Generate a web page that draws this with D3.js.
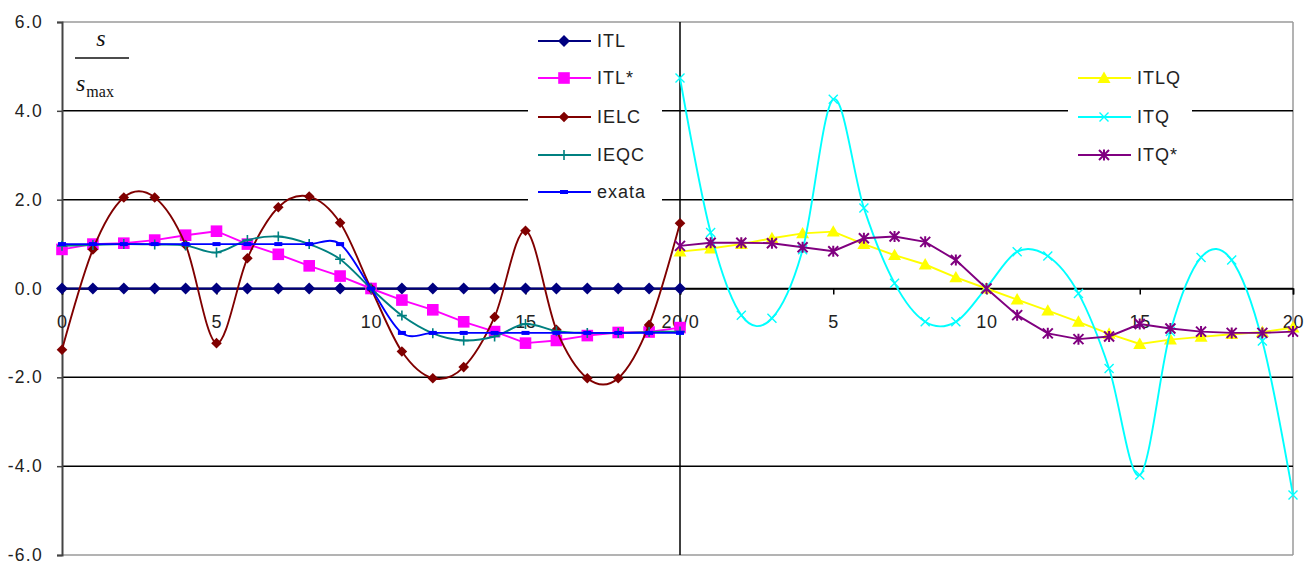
<!DOCTYPE html>
<html>
<head>
<meta charset="utf-8">
<script src="https://cdn.jsdelivr.net/npm/d3@7/dist/d3.min.js"></script>
<style>
  html, body { margin: 0; padding: 0; background: #fff; }
  svg { display: block; }
</style>
</head>
<body>
<svg id="chart" width="1305" height="570"></svg>
<script>
// Grid positions (x) shared by every series in both panels
const positions = [0, 1, 2, 3, 4, 5, 6, 7, 8, 9, 10, 11, 12, 13, 14, 15, 16, 17, 18, 19, 20];

// Left panel series
const itl   = [0, 0, 0, 0, 0, 0, 0, 0, 0, 0, 0, 0, 0, 0, 0, 0, 0, 0, 0, 0, 0];
const itlStar = [0.88, 1.0, 1.02, 1.09, 1.2, 1.29, 1.0, 0.77, 0.51, 0.28, 0, -0.26, -0.48, -0.75, -0.97, -1.23, -1.17, -1.06, -0.99, -0.98, -0.88];
const ielc  = [-1.38, 0.88, 2.05, 2.05, 0.98, -1.23, 0.68, 1.83, 2.07, 1.48, 0, -1.42, -2.02, -1.77, -0.64, 1.3, -0.93, -2.02, -2.02, -0.82, 1.47];
const ieqc  = [0.96, 0.98, 1.0, 0.99, 0.97, 0.81, 1.09, 1.17, 1.0, 0.66, 0, -0.61, -1.01, -1.17, -1.08, -0.8, -0.96, -1.0, -1.0, -0.98, -0.97];
const exata = [1, 1, 1, 1, 1, 1, 1, 1, 1, 1, 0, -1, -1, -1, -1, -1, -1, -1, -1, -1, -1];

// Right panel series
const itlq    = [0.83, 0.9, 1.0, 1.13, 1.24, 1.28, 1.0, 0.75, 0.54, 0.25, 0, -0.25, -0.5, -0.75, -1.02, -1.25, -1.15, -1.09, -1.03, -0.98, -0.88];
const itq     = [4.74, 1.26, -0.6, -0.67, 0.87, 4.26, 1.81, 0.12, -0.75, -0.75, 0.02, 0.83, 0.73, -0.11, -1.8, -4.2, -0.97, 0.7, 0.64, -1.18, -4.65];
const itqStar = [0.96, 1.03, 1.03, 1.02, 0.93, 0.84, 1.13, 1.17, 1.05, 0.64, 0, -0.6, -1.01, -1.14, -1.08, -0.8, -0.9, -0.97, -1.0, -1.0, -0.97];

// Axis labels
const yTicks = [-6, -4, -2, 0, 2, 4, 6];
const yLabels = ["-6.0", "-4.0", "-2.0", "0.0", "2.0", "4.0", "6.0"];
const xTicksLeft = [0, 5, 10, 15, 20];
const xLabelsLeft = ["0", "5", "10", "15", "20/0"];
const xTicksRight = [5, 10, 15, 20];
const xLabelsRight = ["5", "10", "15", "20"];

const leftSeries = [
  { name: "ITL",   values: itl,     color: "#000080", marker: "diamond", size: 6,   smooth: false },
  { name: "ITL*",  values: itlStar, color: "#FF00FF", marker: "square",  size: 5.8, smooth: false },
  { name: "IELC",  values: ielc,    color: "#800000", marker: "diamond", size: 5.3, smooth: true },
  { name: "IEQC",  values: ieqc,    color: "#008080", marker: "plus",    size: 5,   smooth: true },
  { name: "exata", values: exata,   color: "#0000FF", marker: "dash",    size: 4,   smooth: true }
];
const rightSeries = [
  { name: "ITLQ", values: itlq,    color: "#FFFF00", marker: "triangle", size: 6.5, smooth: false },
  { name: "ITQ",  values: itq,     color: "#00FFFF", marker: "cross",    size: 4.5, smooth: true },
  { name: "ITQ*", values: itqStar, color: "#800080", marker: "star",     size: 5,   smooth: false }
];

const SANS = "'Liberation Sans', Arial, sans-serif";
const SERIF = "'Liberation Serif', 'Times New Roman', serif";

const svg = d3.select("#chart");

const y = d3.scaleLinear().domain([-6, 6]).range([555, 22]);
const xL = d3.scaleLinear().domain([0, 20]).range([62, 680]);
const xR = d3.scaleLinear().domain([0, 20]).range([680, 1293]);

// Plot frame
svg.append("line").attr("x1", 62).attr("x2", 1293).attr("y1", y(6)).attr("y2", y(6))
  .attr("stroke", "#9a9a9a").attr("stroke-width", 1.5);
svg.append("line").attr("x1", 62).attr("x2", 1293).attr("y1", y(-6)).attr("y2", y(-6))
  .attr("stroke", "#9a9a9a").attr("stroke-width", 1.5);
svg.append("line").attr("x1", 1293).attr("x2", 1293).attr("y1", y(6)).attr("y2", y(-6))
  .attr("stroke", "#9a9a9a").attr("stroke-width", 1.5);

// Horizontal gridlines
svg.append("g").selectAll("line")
  .data(yTicks.filter(d => d !== 6 && d !== -6))
  .join("line")
  .attr("x1", 62).attr("x2", 1293)
  .attr("y1", d => y(d)).attr("y2", d => y(d))
  .attr("stroke", "#000").attr("stroke-width", 1.5);

// Y axis
const yAxis = d3.axisLeft(y).tickValues(yTicks)
  .tickFormat((d, i) => yLabels[i]).tickSize(5).tickPadding(14);
const gy = svg.append("g").attr("transform", "translate(62,0)").call(yAxis);
gy.select(".domain").attr("stroke", "#444").attr("stroke-width", 2);
gy.selectAll(".tick line").attr("stroke", "#444").attr("stroke-width", 1.5);
gy.selectAll(".tick text")
  .style("font-family", SANS).style("font-size", "17.5px").style("letter-spacing", "1.3px")
  .attr("fill", "#222");

// Panel divider
svg.append("line").attr("x1", 680).attr("x2", 680).attr("y1", y(6)).attr("y2", y(-6))
  .attr("stroke", "#000").attr("stroke-width", 1.5);

// X axes along zero line
function xAxisFor(scale, ticks, labels) {
  const ax = d3.axisBottom(scale).tickValues(ticks)
    .tickFormat((d, i) => labels[i]).tickSize(6).tickPadding(21);
  const g = svg.append("g").attr("transform", `translate(0,${y(0)})`).call(ax);
  g.select(".domain").attr("stroke", "#000").attr("stroke-width", 1.5);
  g.selectAll(".tick line").attr("stroke", "#000").attr("stroke-width", 1.5);
  g.selectAll(".tick text")
    .style("font-family", SANS).style("font-size", "18px").style("letter-spacing", "0.8px")
    .attr("fill", "#222");
  return g;
}
xAxisFor(xL, xTicksLeft, xLabelsLeft);
xAxisFor(xR, xTicksRight, xLabelsRight);

// Marker drawing
function drawMarker(g, type, color, s) {
  switch (type) {
    case "diamond":
      g.append("path").attr("d", `M0,${-s}L${s},0L0,${s}L${-s},0Z`).attr("fill", color);
      break;
    case "square":
      g.append("rect").attr("x", -s).attr("y", -s).attr("width", 2 * s).attr("height", 2 * s).attr("fill", color);
      break;
    case "triangle":
      g.append("path").attr("d", `M0,${-s}L${s},${s * 0.75}L${-s},${s * 0.75}Z`).attr("fill", color);
      break;
    case "dash":
      g.append("rect").attr("x", -s).attr("y", -2).attr("width", 2 * s).attr("height", 4).attr("fill", color);
      break;
    case "plus":
      g.append("path").attr("d", `M${-s},0H${s}M0,${-s}V${s}`).attr("stroke", color).attr("stroke-width", 1.6).attr("fill", "none");
      break;
    case "cross":
      g.append("path").attr("d", `M${-s},${-s}L${s},${s}M${-s},${s}L${s},${-s}`).attr("stroke", color).attr("stroke-width", 1.4).attr("fill", "none");
      break;
    case "star":
      g.append("path").attr("d", `M${-s},${-s}L${s},${s}M${-s},${s}L${s},${-s}M0,${-s - 0.5}V${s + 0.5}`).attr("stroke", color).attr("stroke-width", 2).attr("fill", "none");
      break;
  }
}

function drawSeries(list, xs) {
  list.forEach(s => {
    const pts = positions.map((p, i) => [xs(p), y(s.values[i])]);
    const line = d3.line().curve(s.smooth ? d3.curveCatmullRom.alpha(0) : d3.curveLinear);
    svg.append("path").attr("d", line(pts)).attr("fill", "none")
      .attr("stroke", s.color).attr("stroke-width", 1.9);
    const mg = svg.append("g");
    pts.forEach(p => {
      const g = mg.append("g").attr("transform", `translate(${p[0]},${p[1]})`);
      drawMarker(g, s.marker, s.color, s.size);
    });
  });
}
drawSeries(leftSeries, xL);
drawSeries(rightSeries, xR);

// Legends
function drawLegend(list, x0, y0, w, h, rowY) {
  const g = svg.append("g");
  g.append("rect").attr("x", x0).attr("y", y0).attr("width", w).attr("height", h).attr("fill", "#fff");
  list.forEach((s, i) => {
    const yy = rowY[i];
    g.append("line").attr("x1", x0 + 10).attr("x2", x0 + 63).attr("y1", yy).attr("y2", yy)
      .attr("stroke", s.color).attr("stroke-width", 1.9);
    const m = g.append("g").attr("transform", `translate(${x0 + 36},${yy})`);
    drawMarker(m, s.marker, s.color, s.size);
    g.append("text").attr("x", x0 + 69).attr("y", yy).attr("dy", "0.36em")
      .style("font-family", SANS).style("font-size", "18px").style("letter-spacing", "1px")
      .attr("fill", "#222").text(s.name);
  });
}
drawLegend(leftSeries, 528, 23, 134, 183, [41, 78, 117, 155, 192]);
drawLegend(rightSeries, 1068, 60, 124, 112, [78, 117, 155]);

// s / s_max axis caption
const cap = svg.append("g").attr("fill", "#111");
cap.append("text").attr("x", 101).attr("y", 46).attr("text-anchor", "middle")
  .style("font-family", SERIF).style("font-size", "24px").style("font-style", "italic").text("s");
cap.append("line").attr("x1", 75).attr("x2", 129).attr("y1", 58).attr("y2", 58)
  .attr("stroke", "#111").attr("stroke-width", 1.5);
const t2 = cap.append("text").attr("x", 76).attr("y", 91).style("font-family", SERIF);
t2.append("tspan").style("font-size", "24px").style("font-style", "italic").text("s");
t2.append("tspan").style("font-size", "16px").attr("dx", 1).attr("dy", 6).text("max");
</script>
</body>
</html>
